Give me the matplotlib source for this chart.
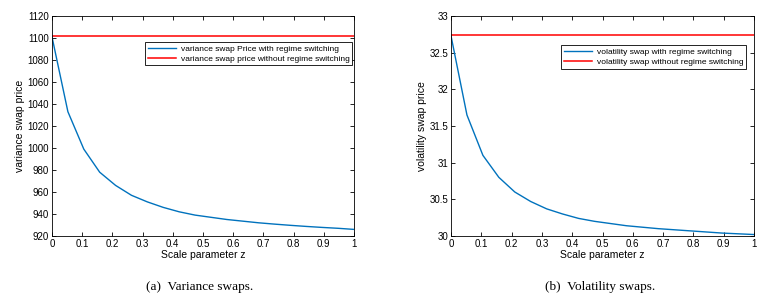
import numpy as np
import matplotlib.pyplot as plt

plt.rcParams['font.family'] = ['Liberation Sans', 'DejaVu Sans']

z = np.linspace(0, 1, 20)
var_rs = [1101, 1033, 999, 978, 966, 957, 951, 946, 942, 939,
          937, 935, 933.5, 932, 930.8, 929.7, 928.7, 927.8, 927, 926]
var_no = 1102
vol_rs = [32.73, 31.65, 31.1, 30.8, 30.6, 30.47, 30.37, 30.3, 30.24, 30.2,
          30.17, 30.14, 30.12, 30.1, 30.085, 30.07, 30.055, 30.04, 30.03, 30.02]
vol_no = 32.74

blue = '#0072BD'

fig = plt.figure(figsize=(7.72, 3.04), dpi=100)
ax1 = fig.add_axes([52/772, 1-236/304, 302/772, 220/304])
ax2 = fig.add_axes([451/772, 1-236/304, 303/772, 220/304])

def style(ax):
    ax.set_xlim(0, 1)
    ax.set_xticks(np.arange(0, 1.01, 0.1))
    ax.set_xticklabels(['0', '0.1', '0.2', '0.3', '0.4', '0.5', '0.6', '0.7', '0.8', '0.9', '1'])
    ax.tick_params(direction='in', top=True, right=True, labelsize=7, length=3, width=0.6, pad=2)
    for s in ax.spines.values():
        s.set_linewidth(0.6)
    ax.set_xlabel('Scale parameter z', fontsize=7.5, labelpad=1)

ax1.plot(z, var_rs, color=blue, lw=1, label='variance swap Price with regime switching')
ax1.plot([0, 1], [var_no, var_no], color='r', lw=1.1, label='variance swap price without regime switching')
style(ax1)
ax1.set_ylim(920, 1120)
ax1.set_yticks(np.arange(920, 1121, 20))
ax1.set_ylabel('variance swap price', fontsize=7.5, labelpad=2)
leg = ax1.legend(loc='upper right', bbox_to_anchor=(1.0, 0.89), fontsize=6, fancybox=False,
                 edgecolor='black', framealpha=1, handlelength=3.3, borderpad=0.35,
                 labelspacing=0.25, handletextpad=0.6, borderaxespad=0.2)
leg.get_frame().set_linewidth(0.6)

ax2.plot(z, vol_rs, color=blue, lw=1, label='volatility swap with regime switching')
ax2.plot([0, 1], [vol_no, vol_no], color='r', lw=1.1, label='volatility swap without regime switching')
style(ax2)
ax2.set_ylim(30, 33)
ax2.set_yticks(np.arange(30, 33.01, 0.5))
ax2.set_yticklabels(['30', '30.5', '31', '31.5', '32', '32.5', '33'])
ax2.set_ylabel('volatility swap price', fontsize=7.5, labelpad=2)
leg = ax2.legend(loc='upper right', bbox_to_anchor=(0.98, 0.875), fontsize=6, fancybox=False,
                 edgecolor='black', framealpha=1, handlelength=3.3, borderpad=0.35,
                 labelspacing=0.25, handletextpad=0.6, borderaxespad=0.2)
leg.get_frame().set_linewidth(0.6)

fig.text(200/772, 1-287/304, '(a)  Variance swaps.', family='Liberation Serif', fontsize=9.5, ha='center', va='center')
fig.text(600/772, 1-287/304, '(b)  Volatility swaps.', family='Liberation Serif', fontsize=9.5, ha='center', va='center')

fig.savefig('out.png', dpi=100)
